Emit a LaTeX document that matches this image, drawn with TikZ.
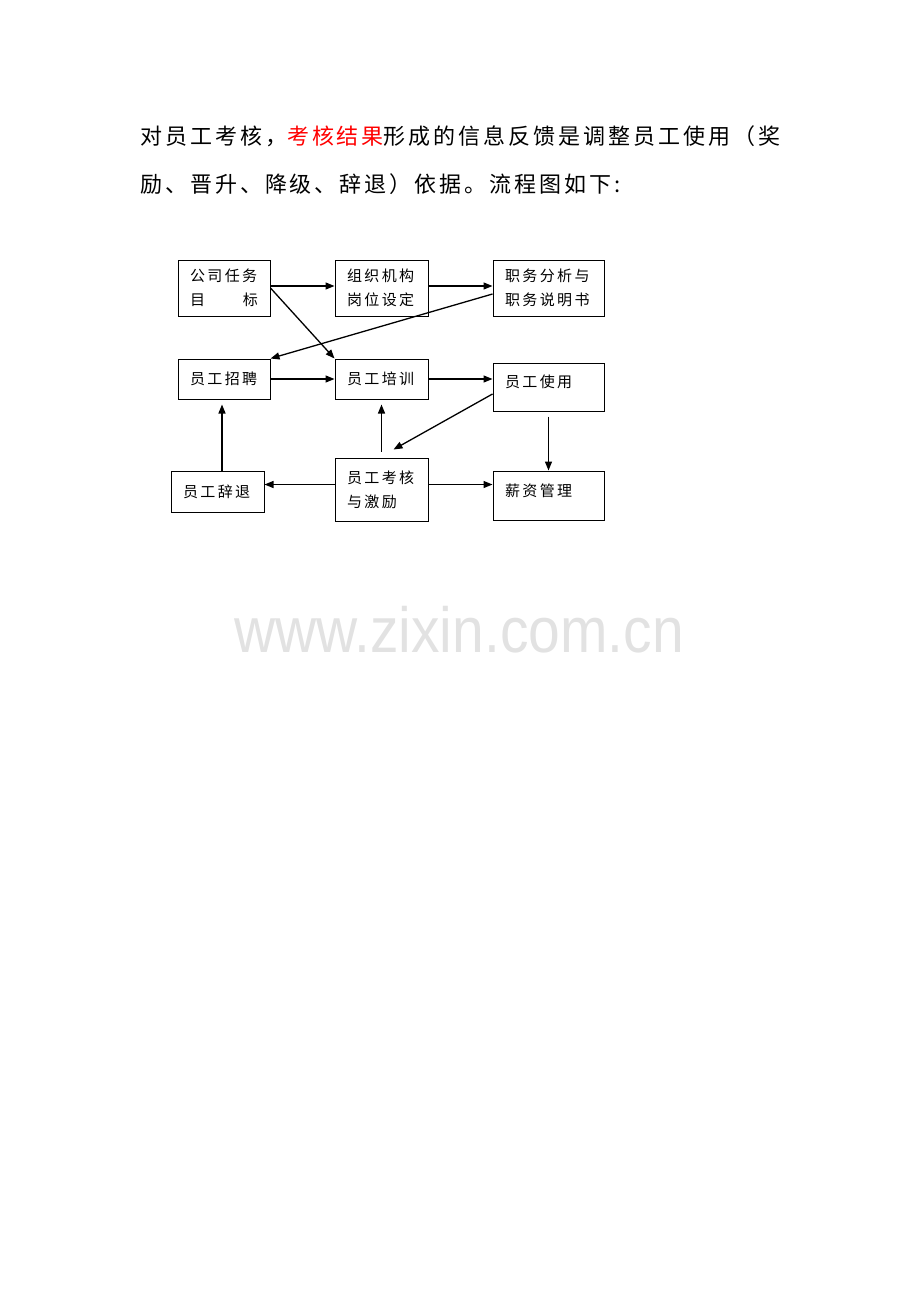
\documentclass[tikz,border=0pt]{standalone}
\usepackage{fontspec}
\usepackage{tikz}
\usetikzlibrary{arrows.meta}
\newfontfamily\cjkbig[LetterSpace=13.5]{Noto Sans CJK SC}
\newfontfamily\cjkbox[LetterSpace=16]{Noto Sans CJK SC}
\newfontfamily\wmfont{Liberation Sans}
\definecolor{wmgray}{HTML}{E2E2E2}
\begin{document}
\begin{tikzpicture}[x=1pt, y=-1pt,
  box/.style = {draw, line width=1pt, align=left, inner xsep=12pt, inner ysep=0pt,
    font=\cjkbox\fontsize{15}{24}\selectfont},
  arr/.style = {line width=1.3pt, -{Triangle[length=9pt,width=7pt]}}]
\useasboundingbox (0,0) rectangle (920,1302);
% text above the chart
\node[anchor=west, inner sep=0pt, font=\cjkbig\fontsize{22}{30}\selectfont] (line1) at (140,136)
  {对员工考核，\textcolor{red}{考核结果}形成的信息反馈是调整员工使用（奖};
\node[anchor=west, inner sep=0pt, font=\cjkbig\fontsize{22}{30}\selectfont] (line2) at (140,184)
  {励、晋升、降级、辞退）依据。流程图如下:};
% boxes
\node[box, text width=68pt, minimum height=56pt] (task) at (224,288) {公司任务\\目\hfill 标};
\node[box, text width=69pt, minimum height=56pt] (org) at (381.5,288) {组织机构\\岗位设定};
\node[box, text width=87pt, minimum height=56pt] (job) at (548.5,288) {职务分析与\\职务说明书};
\node[box, text width=68pt, minimum height=40pt] (recruit) at (224,379) {员工招聘};
\node[box, text width=69pt, minimum height=40pt] (train) at (381.5,379) {员工培训};
\node[box, text width=87pt, minimum height=48pt, text depth=12pt] (use) at (548.5,387) {员工使用};
\node[box, text width=69pt, minimum height=41pt] (dismiss) at (217.5,491.5) {员工辞退};
\node[box, text width=69pt, minimum height=63pt] (assess) at (381.5,489.5) {员工考核\\与激励};
\node[box, text width=87pt, minimum height=49pt, text depth=11pt] (salary) at (548.5,495.5) {薪资管理};
% connectors
\draw[arr] ([yshift=2pt]task.east) -- ([yshift=2pt]org.west);
\draw[arr] ([yshift=2pt]org.east) -- ([yshift=2pt]job.west);
\draw[arr] (task.east) -- (train.north west);
\draw[arr] ([yshift=-6pt]job.west) -- (recruit.north east);
\draw[arr] (recruit) -- (train);
\draw[arr] (train.east) -- (train.east -| use.west);
\draw[arr] ([yshift=-7pt]use.west) -- ([xshift=12pt,yshift=8pt]assess.north);
\draw[arr] ([yshift=6pt]assess.north) -- ([yshift=-5pt]train.south);
\draw[arr] ([xshift=-2pt]recruit.south |- dismiss.north) -- ([xshift=-2pt,yshift=-5pt]recruit.south);
\draw[arr] ([yshift=-5pt]use.south) -- (salary.north);
\draw[arr] ([yshift=5pt]assess.west) -- ([yshift=5pt]assess.west -| dismiss.east);
\draw[arr] ([yshift=5pt]assess.east) -- ([yshift=5pt]assess.east -| salary.west);
% watermark
\node[anchor=base, inner sep=0pt, text=wmgray, font=\wmfont\fontsize{57}{60}\selectfont,
  yscale=1.12, transform shape] (mark) at (459,652) {www.zixin.com.cn};
\end{tikzpicture}
\end{document}
